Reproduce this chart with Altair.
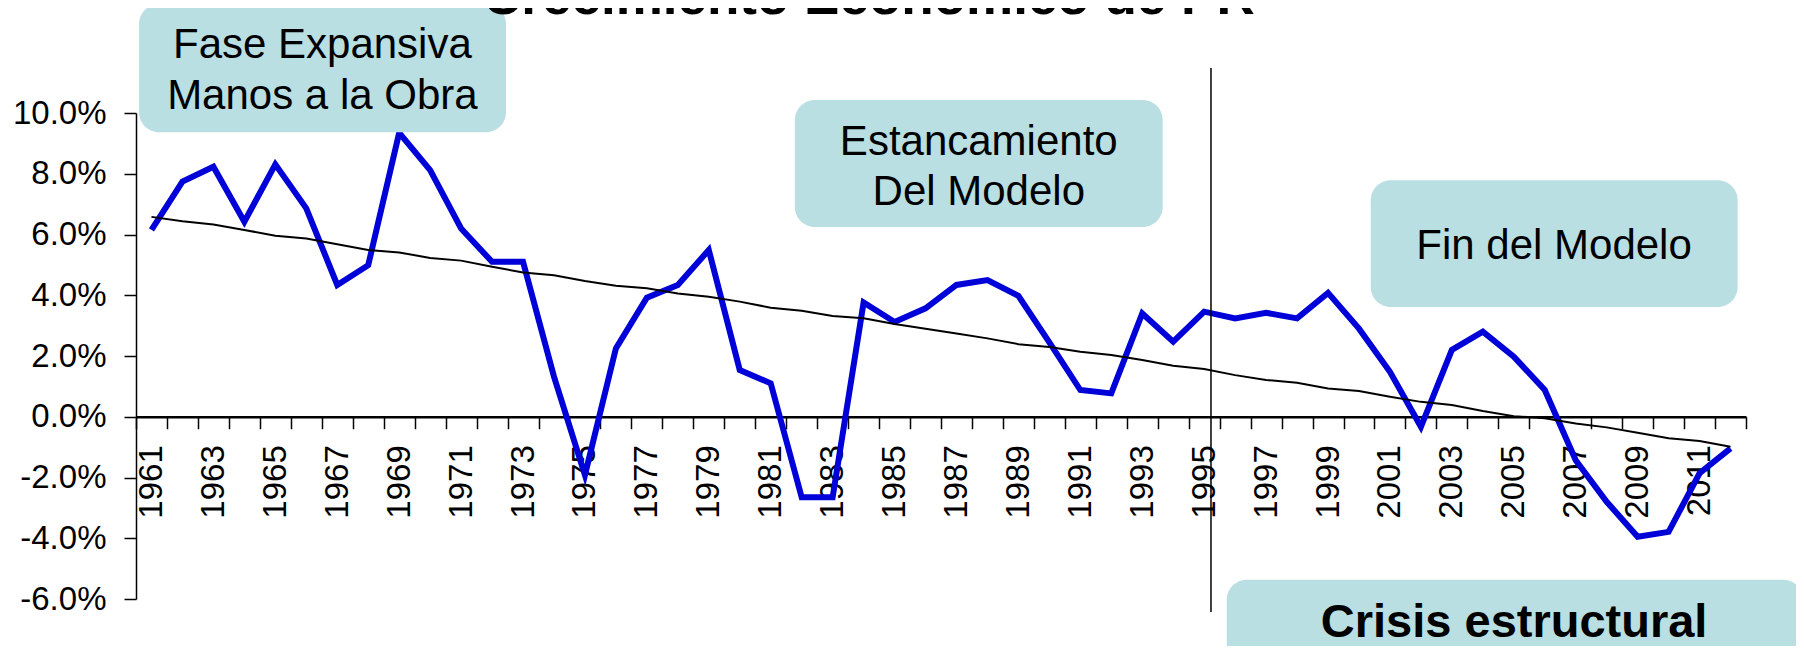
import altair as alt
import pandas as pd

# ---- data ----
years = list(range(1961, 2013))
growth = [6.15, 7.74, 8.23, 6.42, 8.31, 6.86, 4.34, 4.99, 9.35, 8.12,
          6.20, 5.10, 5.10, 1.32, -1.92, 2.25, 3.92, 4.34, 5.49, 1.54,
          1.10, -2.65, -2.65, 3.76, 3.12, 3.57, 4.34, 4.50, 3.98, 2.45,
          0.88, 0.77, 3.40, 2.47, 3.46, 3.24, 3.42, 3.24, 4.08, 2.90,
          1.48, -0.33, 2.20, 2.80, 1.98, 0.88, -1.43, -2.80, -3.95, -3.79,
          -1.86, -1.04]
trend = [6.58, 6.44, 6.33, 6.15, 5.96, 5.87, 5.68, 5.49, 5.41, 5.23,
         5.14, 4.94, 4.75, 4.66, 4.47, 4.31, 4.23, 4.06, 3.95, 3.79,
         3.59, 3.49, 3.32, 3.24, 3.05, 2.90, 2.74, 2.58, 2.39, 2.30,
         2.14, 2.03, 1.87, 1.68, 1.57, 1.37, 1.21, 1.12, 0.93, 0.85,
         0.66, 0.49, 0.39, 0.19, 0.02, -0.05, -0.22, -0.35, -0.53, -0.71,
         -0.80, -0.99]
y_ticks = [-6, -4, -2, 0, 2, 4, 6, 8, 10]
title_text = "Crecimiento Económico de PR"

# ---- annotation geometry (in axis units: years / percent) ----
boxes = pd.DataFrame({
    "x": [1960.6, 1981.78, 2000.38, 1995.73],
    "x2": [1972.45, 1993.66, 2012.23, 2014.35],
    "y": [13.59, 10.43, 7.79, -5.37],
    "y2": [9.37, 6.25, 3.61, -8.7],
})
texts_normal = pd.DataFrame({
    "x": [1966.52, 1966.52, 1987.72, 1987.72, 2006.30],
    "y": [11.81, 10.13, 8.61, 6.97, 5.19],
    "t": ["Fase Expansiva", "Manos a la Obra", "Estancamiento", "Del Modelo", "Fin del Modelo"],
})
texts_bold = pd.DataFrame({"x": [2005.01], "y": [-7.25], "t": ["Crisis estructural"]})
title_df = pd.DataFrame({"x": [1984.17], "y": [13.26], "t": [title_text]})
vline = pd.DataFrame({"x": [1995.22], "y": [11.48], "y2": [-6.43]})

df = pd.DataFrame({"year": years, "growth": growth, "trend": trend})

W, H = 1610, 486
FONT = "Liberation Sans"
BLUE = "#0000D8"
BOX = "#B9DFE3"

x_scale = alt.Scale(domain=[years[0] - 0.5, years[-1] + 0.5], nice=False, zero=False)
y_scale = alt.Scale(domain=[y_ticks[0], y_ticks[-1]], nice=False, zero=False)

band = W / len(years)
zero_offset = -H * (0 - y_ticks[0]) / (y_ticks[-1] - y_ticks[0])

x_axis = alt.Axis(
    values=[yv - 0.5 for yv in years] + [years[-1] + 0.5],
    labelExpr=(
        f"((datum.value + 0.5) % 2 == 1 && datum.value < {years[-1]}) "
        "? format(datum.value + 0.5, 'd') : ''"
    ),
    labelOffset=band / 2,
    labelAngle=270,
    labelFontSize=33,
    labelPadding=16,
    labelOverlap=False,
    labelFlush=False,
    labelBound=False,
    tickSize=12,
    tickWidth=1.5,
    tickColor="black",
    domainWidth=2.5,
    domainColor="black",
    offset=zero_offset,
    grid=False,
    title=None,
)
y_axis = alt.Axis(
    values=y_ticks,
    labelExpr="(datum.value < 0 ? '-' : '') + format(abs(datum.value), '.1f') + '%'",
    labelFontSize=33,
    labelPadding=18,
    tickSize=12,
    tickWidth=1.5,
    tickColor="black",
    domainWidth=1.5,
    domainColor="black",
    grid=False,
    title=None,
)


def X(field):
    return alt.X(field, scale=x_scale, axis=x_axis)


def Y(field):
    return alt.Y(field, scale=y_scale, axis=y_axis)


base = alt.Chart(df)

growth_line = base.mark_line(color=BLUE, strokeWidth=6, strokeJoin="miter").encode(
    x=X("year:Q"), y=Y("growth:Q"),
)
trend_line = base.mark_line(color="black", strokeWidth=2).encode(
    x=X("year:Q"), y=Y("trend:Q"),
)
rule = alt.Chart(vline).mark_rule(color="black", strokeWidth=1.5).encode(
    x=X("x:Q"), y=Y("y:Q"), y2="y2:Q",
)
box_layer = alt.Chart(boxes).mark_rect(color=BOX, cornerRadius=20).encode(
    x=X("x:Q"), x2="x2:Q", y=Y("y:Q"), y2="y2:Q",
)
text_layer = alt.Chart(texts_normal).mark_text(
    font=FONT, fontSize=42, color="black", align="center", baseline="alphabetic"
).encode(x=X("x:Q"), y=Y("y:Q"), text="t:N")
bold_layer = alt.Chart(texts_bold).mark_text(
    font=FONT, fontSize=47, fontWeight="bold", color="black", align="center", baseline="alphabetic"
).encode(x=X("x:Q"), y=Y("y:Q"), text="t:N")
title_layer = alt.Chart(title_df).mark_text(
    font=FONT, fontSize=53, fontWeight="bold", color="black", align="center", baseline="alphabetic"
).encode(x=X("x:Q"), y=Y("y:Q"), text="t:N")

chart = alt.layer(
    growth_line, trend_line, rule, box_layer, text_layer, bold_layer, title_layer
).properties(
    width=W,
    height=H,
    autosize=alt.AutoSizeParams(type="none"),
    padding={"left": 128, "top": 105, "right": 50, "bottom": 47},
).configure_axis(
    labelFont=FONT,
    labelColor="black",
).configure_view(stroke=None)

chart.save("out.html", embed_options={"renderer": "svg", "actions": False})
